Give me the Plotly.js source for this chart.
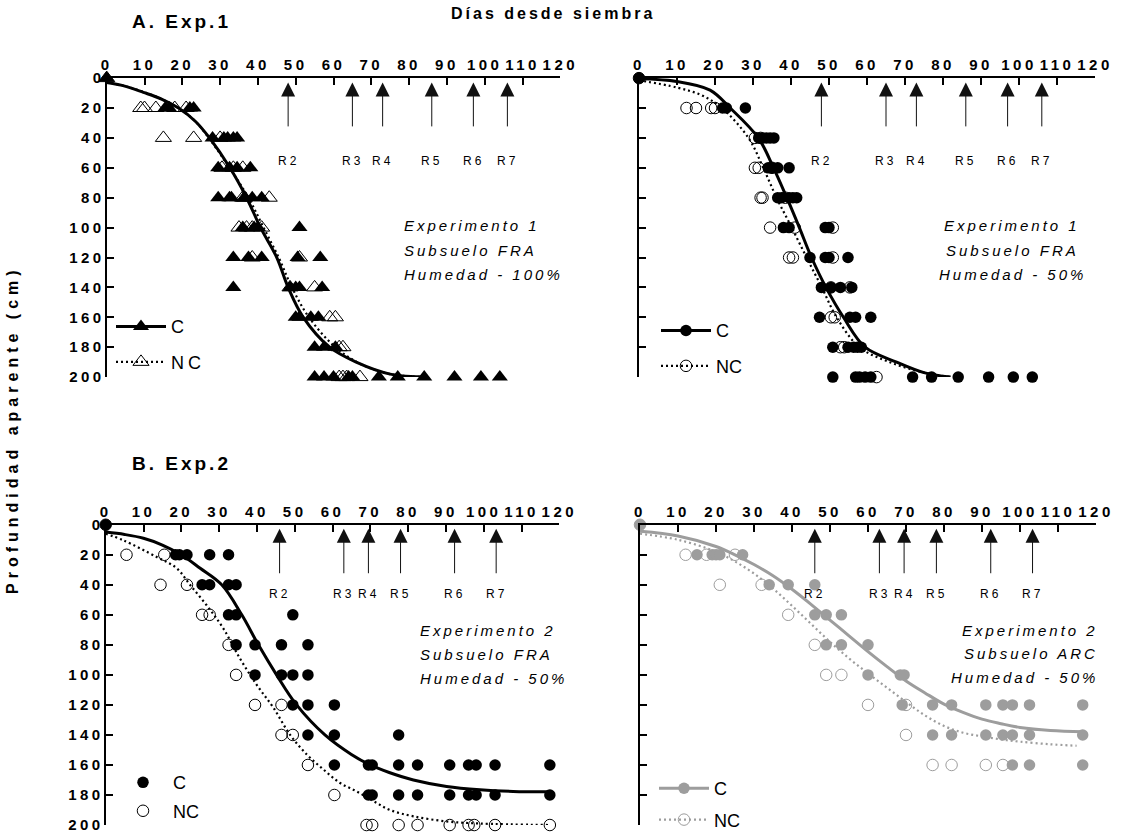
<!DOCTYPE html>
<html>
<head>
<meta charset="utf-8">
<script src="https://cdn.plot.ly/plotly-3.0.1.min.js"></script>
<style>
  html, body { margin: 0; padding: 0; background: #fff; }
  #chart { width: 1122px; height: 838px; }
  .xaxislayer-above text, .yaxislayer-above text { letter-spacing: 3.5px; font-weight: bold !important; }
  .legendtext { letter-spacing: 4px; }
  .annotation-text { letter-spacing: 3px; }
</style>
</head>
<body>
<div id="chart"></div>
<script>
// ---------------- DATA ----------------
const depthRows = [0, 20, 40, 60, 80, 100, 120, 140, 160, 180, 200];
const xTicks = [0, 10, 20, 30, 40, 50, 60, 70, 80, 90, 100, 110, 120];
const yTicks = [0, 20, 40, 60, 80, 100, 120, 140, 160, 180, 200];
const stageNames = ['R2', 'R3', 'R4', 'R5', 'R6', 'R7'];
const stageDaysExp1 = [48, 65, 73, 86, 97, 106];
const stageDaysExp2 = [46, 63, 69.5, 78, 92.3, 103.3];

// Panel A-left: Experimento 1, Subsuelo FRA, Humedad 100% (days per depth row)
const exp1H100_C = [[0], [15.5, 16.5, 22, 23], [28, 31, 32, 33.5, 34.5], [29.5, 32.5, 34.5, 38],
  [29.5, 32.5, 33, 36.5, 38.5, 41], [36, 39, 40, 51], [33.5, 37.5, 41, 50.5, 56.5],
  [33.5, 48.5, 50, 51, 57], [50, 51, 54, 56], [55, 57.5, 60.5],
  [55, 57.5, 60, 64, 65, 72, 77, 84, 92, 99, 104]];
const exp1H100_NC = [[0], [9, 10, 13, 18, 21], [15, 23, 30], [30.5, 33.5, 36], [36, 36.5, 43],
  [35, 37, 38.5, 41], [38.5, 51], [48.5, 55], [59, 60.5], [61.5, 62.5], [61.5, 62.5, 63.5, 67]];
const exp1H100_fitC_day = [0, 5, 9.7, 14.5, 19, 23.5, 27.2, 32.6, 37, 40.7, 45, 48, 52, 59, 66, 75, 85];
const exp1H100_fitC_depth = [3, 5.5, 9.5, 14, 20, 29, 40, 60, 80, 100, 120, 140, 160, 180, 190, 198, 200];
const exp1H100_fitNC_day = [0, 5, 10, 14.5, 19, 23.5, 27, 32.5, 37.5, 41.5, 45.5, 49, 53.5, 60.5, 67, 75, 84];
const exp1H100_fitNC_depth = [3, 5.5, 9.5, 14, 20, 29, 40, 60, 80, 100, 120, 140, 160, 180, 191, 198, 200];

// Panel A-right: Experimento 1, Subsuelo FRA, Humedad 50%
const exp1H50_C = [[0], [22, 23, 28], [31.5, 32.5, 33.5, 34.5, 35.5], [34, 35, 36.5, 39.5],
  [36.5, 37.5, 39.5, 40.5, 41.5], [38, 39.5, 49, 50], [45, 49, 50, 55], [48, 50.5, 53, 56],
  [47.5, 55.5, 57, 61], [51, 55, 56.5, 57.5, 58.5],
  [51, 57, 58, 59.5, 61, 72, 77, 84, 92, 98.5, 103.5]];
const exp1H50_NC = [[0], [12.5, 15, 19, 20], [30.5, 32], [30.5, 31.5, 35], [32, 32.5, 38.5],
  [34.5, 41, 51], [39.5, 40.5, 51], [50.5, 55.5], [50.5, 51.5], [53, 54], [62.5]];
const exp1H50_fitC_day = [0, 9.9, 18.7, 24, 31.4, 35.4, 38.9, 42.2, 45.4, 49.2, 53.8, 59.5, 67.8, 75, 82];
const exp1H50_fitC_depth = [0.5, 2.2, 8, 20, 40, 60, 80, 100, 120, 140, 160, 180, 190, 197, 200];
const exp1H50_fitNC_day = [0, 10, 16.5, 21.8, 28.8, 32.7, 36.2, 40.2, 44.1, 48.1, 52, 58, 66, 75, 82];
const exp1H50_fitNC_depth = [1.5, 6.3, 11.5, 20, 40, 60, 80, 100, 120, 140, 160, 180, 190, 197, 200];

// Panel B-left: Experimento 2, Subsuelo FRA, Humedad 50%
const exp2FRA_C = [[0], [18.5, 19.5, 21.5, 27.5, 32.5], [25.5, 27.5, 32.5, 34.5], [32.5, 34.5, 49.5],
  [34.5, 39.5, 46.5, 53.5], [39.5, 46.5, 49.5, 53.5], [49.5, 53.5, 60.5], [53.5, 60.5, 77.5],
  [60.5, 69.5, 70.5, 77.5, 82.5, 91, 96, 98, 103, 117.5],
  [69.5, 70.5, 77.5, 82.5, 91, 96, 98, 103, 117.5], []];
const exp2FRA_NC = [[0], [5.5, 15.5], [14.5, 21.5], [25.5, 27.5], [32.5], [34.5], [39.5, 46.5],
  [46.5, 49.5], [53.5], [60.5], [69, 70.5, 77.5, 82.5, 91, 96, 97.5, 103, 117.5]];
const exp2FRA_fitC_day = [0, 5, 10, 15, 20, 25, 30.7, 36, 40.4, 45.2, 50.5, 58, 65, 70, 75, 81.4, 90.2, 99, 107.8, 117.5];
const exp2FRA_fitC_depth = [4.9, 6.5, 9, 13.5, 20, 29, 40, 60, 80, 100, 120, 140, 153, 160, 165, 170, 174.3, 176.5, 177.6, 177.8];
const exp2FRA_fitNC_day = [0, 4.7, 13.5, 18.8, 22.3, 26.7, 31.1, 35.5, 40, 44.4, 48.8, 53.2, 57.6, 62, 66.4, 70.8, 75.2, 81.4, 90.2, 99, 117.5];
const exp2FRA_fitNC_depth = [6, 10.4, 21.5, 29, 40, 53.6, 69, 89, 106.8, 122, 140, 153, 163, 172, 177.6, 184, 190, 194.2, 197.6, 199, 200];

// Panel B-right: Experimento 2, Subsuelo ARC, Humedad 50%
const exp2ARC_C = [[0], [15, 19, 20, 21, 27], [34, 39, 46], [46, 49, 53], [49, 53, 60],
  [60, 68.5, 69.5], [69, 77, 82, 91, 95.5, 98, 102.5, 116.5],
  [77, 82, 91, 95.5, 98, 102.5, 116.5], [98, 102.5, 116.5], [], []];
const exp2ARC_NC = [[0], [12, 17.5, 25], [21, 32], [39], [46], [49, 53], [60, 70], [70],
  [77, 82, 91, 95.5], [], []];
const exp2ARC_fitC_day = [0, 10, 20, 25, 30, 35, 40, 45, 50, 55, 60, 65, 70, 75, 80, 85, 90, 95, 100, 108, 116.7];
const exp2ARC_fitC_depth = [4.4, 7.5, 14.5, 20, 26.5, 34, 43, 53, 63.5, 74, 84.5, 94.5, 104, 112, 119.5, 125, 129.5, 132.5, 135, 137, 137.8];
const exp2ARC_fitNC_day = [0, 10, 20, 25, 30, 35, 40, 45, 50, 55, 60, 65, 70, 75, 80, 85, 90, 95, 100, 107.9, 114.9];
const exp2ARC_fitNC_depth = [6, 10, 18, 24.5, 32.5, 42.5, 54, 66, 78, 89, 99, 108.5, 118, 127, 134, 138.5, 141, 143, 144.5, 146.2, 147.2];

// ---------------- LAYOUT HELPERS ----------------
const W = 1122, H = 838;
const fx = p => p / W;
const fy = p => 1 - p / H;
const FONT = 'Liberation Sans, Arial, sans-serif';
const GRAY = '#9d9d9d';

function flatten(rows) {
  const xs = [], ys = [];
  rows.forEach((days, i) => days.forEach(d => { xs.push(d); ys.push(depthRows[i]); }));
  return { xs, ys };
}

const panels = [
  { xa: 'x', ya: 'y', C: exp1H100_C, NC: exp1H100_NC,
    fc: [exp1H100_fitC_day, exp1H100_fitC_depth], fn: [exp1H100_fitNC_day, exp1H100_fitNC_depth],
    color: '#000', sym: 'triangle-up', size: 14, legendLines: true, legend: 'legend',
    stages: stageDaysExp1 },
  { xa: 'x2', ya: 'y2', C: exp1H50_C, NC: exp1H50_NC,
    fc: [exp1H50_fitC_day, exp1H50_fitC_depth], fn: [exp1H50_fitNC_day, exp1H50_fitNC_depth],
    color: '#000', sym: 'circle', size: 11.5, legendLines: true, legend: 'legend2',
    stages: stageDaysExp1 },
  { xa: 'x3', ya: 'y3', C: exp2FRA_C, NC: exp2FRA_NC,
    fc: [exp2FRA_fitC_day, exp2FRA_fitC_depth], fn: [exp2FRA_fitNC_day, exp2FRA_fitNC_depth],
    color: '#000', sym: 'circle', size: 11.5, legendLines: false, legend: 'legend3',
    stages: stageDaysExp2 },
  { xa: 'x4', ya: 'y4', C: exp2ARC_C, NC: exp2ARC_NC,
    fc: [exp2ARC_fitC_day, exp2ARC_fitC_depth], fn: [exp2ARC_fitNC_day, exp2ARC_fitNC_depth],
    color: GRAY, sym: 'circle', size: 11.5, legendLines: true, legend: 'legend4',
    stages: stageDaysExp2 }
];

const traces = [];
panels.forEach((p, k) => {
  const c = flatten(p.C), n = flatten(p.NC);
  traces.push({ x: p.fc[0], y: p.fc[1], xaxis: p.xa, yaxis: p.ya, mode: 'lines',
    line: { color: p.color, width: 3, shape: 'spline', smoothing: 1 }, showlegend: false, hoverinfo: 'skip' });
  traces.push({ x: p.fn[0], y: p.fn[1], xaxis: p.xa, yaxis: p.ya, mode: 'lines',
    line: { color: p.color, width: 2.2, dash: '2px,3px', shape: 'spline', smoothing: 1 }, showlegend: false, hoverinfo: 'skip' });
  traces.push({ x: c.xs, y: c.ys, xaxis: p.xa, yaxis: p.ya, mode: 'markers', cliponaxis: false,
    marker: { symbol: p.sym, size: p.size, color: p.color, line: { width: 0 } }, showlegend: false });
  traces.push({ x: n.xs, y: n.ys, xaxis: p.xa, yaxis: p.ya, mode: 'markers', cliponaxis: false,
    marker: { symbol: p.sym + '-open', size: p.size, color: p.color, line: { width: 1, color: p.color } }, showlegend: false });
  traces.push({ x: [null], y: [null], xaxis: p.xa, yaxis: p.ya, name: 'C',
    mode: p.legendLines ? 'lines+markers' : 'markers', legend: p.legend, legendgroup: 'c' + k,
    line: { color: p.color, width: 3 }, marker: { symbol: p.sym, size: p.size, color: p.color } });
  traces.push({ x: [null], y: [null], xaxis: p.xa, yaxis: p.ya, name: 'NC',
    mode: p.legendLines ? 'lines+markers' : 'markers', legend: p.legend, legendgroup: 'n' + k,
    line: { color: p.color, width: 2.2, dash: '2px,3px' },
    marker: { symbol: p.sym + '-open', size: p.size, color: p.color, line: { width: 1, color: p.color } } });
});

function xAxis(d0, d1, anchor) {
  return { domain: [fx(d0), fx(d1)], anchor: anchor, side: 'top', range: [0, 120],
    tickmode: 'array', tickvals: xTicks, ticktext: xTicks.map(String),
    ticks: 'inside', ticklen: 7, tickwidth: 2, tickcolor: '#000',
    showline: true, linewidth: 2, linecolor: '#000', showgrid: false, zeroline: false,
    tickfont: { family: FONT, size: 15, color: '#000', weight: 'bold' }, fixedrange: true };
}
function yAxis(top, bottom, anchor, labels) {
  return { domain: [fy(bottom), fy(top)], anchor: anchor, range: [200, 0],
    tickmode: 'array', tickvals: yTicks, ticktext: yTicks.map(String), showticklabels: labels,
    ticks: 'inside', ticklen: 7, tickwidth: 2, tickcolor: '#000', ticklabelstandoff: -3,
    showline: true, linewidth: 2, linecolor: '#000', showgrid: false, zeroline: false,
    tickfont: { family: FONT, size: 15, color: '#000', weight: 'bold' }, fixedrange: true };
}

const annotations = [];
panels.forEach((p, k) => {
  const top = k < 2;
  p.stages.forEach((d, i) => {
    annotations.push({ xref: p.xa, yref: p.ya, axref: p.xa, ayref: p.ya,
      x: d, y: top ? 3 : 2.7, ax: d, ay: 33.3, text: '', showarrow: true,
      arrowhead: 2, arrowsize: 2.8, arrowwidth: 1, arrowcolor: '#111' });
    annotations.push({ xref: p.xa, yref: p.ya, x: d, y: top ? 55.6 : 46, text: stageNames[i],
      showarrow: false, xanchor: 'center', yanchor: 'middle',
      font: { family: FONT, size: 12, color: '#000' } });
  });
});

function infoText(lines, xpx, ypx, anchor) {
  lines.forEach((t, i) => annotations.push({ xref: 'paper', yref: 'paper', x: fx(xpx), y: fy(ypx[i]),
    text: t, showarrow: false, xanchor: anchor, yanchor: 'middle',
    font: { family: FONT, size: 15, color: '#000', style: 'italic' } }));
}
infoText(['Experimento 1', 'Subsuelo FRA', 'Humedad - 100%'], 402, [225.7, 250.7, 275], 'left');
infoText(['Experimento 1', 'Subsuelo FRA', 'Humedad - 50%'], 1012, [225.7, 250.7, 275], 'center');
infoText(['Experimento 2', 'Subsuelo FRA', 'Humedad - 50%'], 418, [632, 656, 680], 'left');
infoText(['Experimento 2', 'Subsuelo ARC', 'Humedad - 50%'], 1100, [632, 655, 679], 'right');

annotations.push({ xref: 'paper', yref: 'paper', x: fx(553), y: fy(14), text: 'Días desde siembra',
  showarrow: false, xanchor: 'center', yanchor: 'middle',
  font: { family: FONT, size: 16, color: '#000', weight: 'bold' } });
annotations.push({ xref: 'paper', yref: 'paper', x: fx(130), y: fy(22), text: 'A. Exp.1',
  showarrow: false, xanchor: 'left', yanchor: 'middle',
  font: { family: FONT, size: 19, color: '#000', weight: 'bold' } });
annotations.push({ xref: 'paper', yref: 'paper', x: fx(130), y: fy(465), text: 'B. Exp.2',
  showarrow: false, xanchor: 'left', yanchor: 'middle',
  font: { family: FONT, size: 19, color: '#000', weight: 'bold' } });
annotations.push({ xref: 'paper', yref: 'paper', x: fx(13), y: fy(431),
  text: '<span style="letter-spacing:5px">Profundidad aparente (cm)</span>', textangle: -90,
  showarrow: false, xanchor: 'center', yanchor: 'middle',
  font: { family: FONT, size: 16, color: '#000', weight: 'bold' } });

function legendAt(xpx, ypx, gap) {
  return { x: fx(xpx), y: fy(ypx), xanchor: 'left', yanchor: 'top', bgcolor: 'rgba(0,0,0,0)',
    borderwidth: 0, font: { family: FONT, size: 18, color: '#000' }, itemwidth: 50,
    tracegroupgap: gap, traceorder: 'grouped', itemclick: false, itemdoubleclick: false };
}

const layout = {
  width: W, height: H, margin: { l: 0, r: 0, t: 0, b: 0 },
  paper_bgcolor: '#fff', plot_bgcolor: 'rgba(0,0,0,0)', showlegend: true, hovermode: false,
  xaxis: xAxis(106.7, 560.3, 'y'), yaxis: yAxis(78.3, 378, 'x', true),
  xaxis2: xAxis(639, 1095, 'y2'), yaxis2: yAxis(78.3, 378, 'x2', false),
  xaxis3: xAxis(105.7, 559.3, 'y3'), yaxis3: yAxis(526, 827, 'x3', true),
  xaxis4: xAxis(640, 1096, 'y4'), yaxis4: yAxis(526, 827, 'x4', false),
  legend: legendAt(111, 309, 9),
  legend2: legendAt(656, 313, 9),
  legend3: legendAt(113, 766, 2),
  legend4: legendAt(654, 772, 5),
  annotations: annotations
};

Plotly.newPlot('chart', traces, layout, { displayModeBar: false, staticPlot: true });
</script>
</body>
</html>
